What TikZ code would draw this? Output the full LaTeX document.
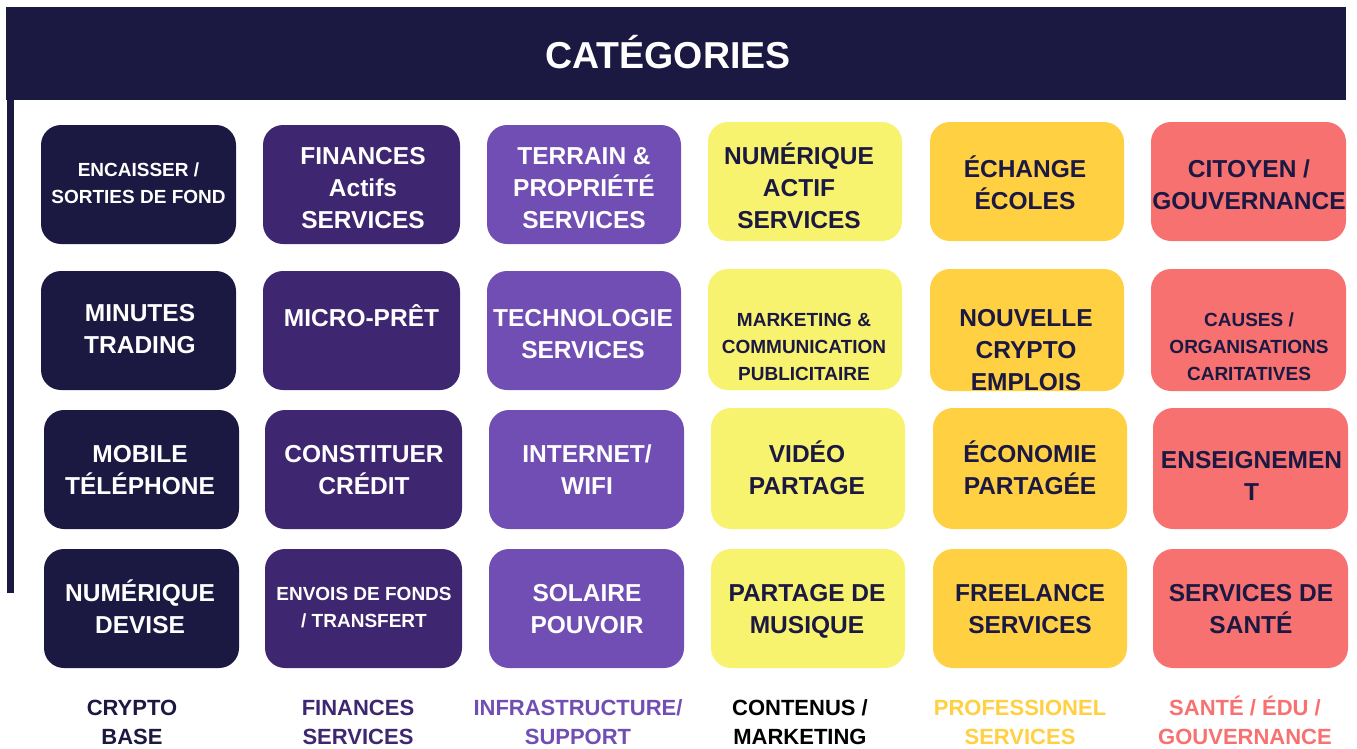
\documentclass[tikz,border=0pt]{standalone}
\usepackage{fontspec}
\setmainfont{Liberation Sans}
\definecolor{navy}{HTML}{1B1842}
\definecolor{purp}{HTML}{3E2770}
\definecolor{lav}{HTML}{714EB3}
\definecolor{lemon}{HTML}{F7F36F}
\definecolor{gold}{HTML}{FFD042}
\definecolor{coral}{HTML}{F67170}
\newcommand{\ctext}[1]{\begin{tabular}[t]{@{}c@{}}#1\end{tabular}}
\tikzset{
  box/.style={rounded corners=20pt, inner sep=0pt},
  big/.style={font=\bfseries\fontsize{24.5}{32}\selectfont, inner sep=0pt, text height=17.5pt},
  sml/.style={font=\bfseries\fontsize{19}{27}\selectfont, inner sep=0pt, text height=13.6pt},
  lbl/.style={font=\bfseries\fontsize{22}{29}\selectfont, inner sep=0pt, text height=15.8pt, text depth=29pt},
  wt/.style={text=white},
  dk/.style={text=navy},
}
\begin{document}
\begin{tikzpicture}[x=1pt,y=-1pt]
\useasboundingbox (0,0) rectangle (1357,748);
% header
\fill[navy] (6,7) rectangle (1346,100);
\node[font=\bfseries\fontsize{37.5}{40}\selectfont, text=white, inner sep=0pt] (title) at (668,52) {CATÉGORIES};
\fill[navy] (7,100) rectangle (14,593);
% boxes: name, left, top, right, bottom, colour
\foreach \n/\l/\t/\r/\b/\c in {
  a1/41/125/236/244/navy, b1/263/125/460/244/purp, c1/487/125/681/244/lav,
  d1/708/122/902/241/lemon, e1/930/122/1124/241/gold, f1/1151/122/1346/241/coral,
  a2/41/271/236/390/navy, b2/263/271/460/390/purp, c2/487/271/681/390/lav,
  d2/708/269/902/390/lemon, e2/930/269/1124/391/gold, f2/1151/269/1346/391/coral,
  a3/44/410/239/529/navy, b3/265/410/462/529/purp, c3/489/410/684/529/lav,
  d3/711/408/905/529/lemon, e3/933/408/1127/529/gold, f3/1153/408/1348/529/coral,
  a4/44/549/239/668/navy, b4/265/549/462/668/purp, c4/489/549/684/668/lav,
  d4/711/549/905/668/lemon, e4/933/549/1127/668/gold, f4/1153/549/1348/668/coral}
  {\node[box, fill=\c, minimum width={(\r-\l)*1pt}, minimum height={(\b-\t)*1pt}] (\n) at ({(\l+\r)/2},{(\t+\b)/2}) {};}
% row 1
\node[sml,wt,text depth=27pt] (ta1) at (138.5,183.5) {\ctext{ENCAISSER /\\SORTIES DE FOND}};
\node[big,wt,text depth=64pt] (tb1) at (363,188) {\ctext{FINANCES\\Actifs\\SERVICES}};
\node[big,wt,text depth=64pt] (tc1) at (584,188) {\ctext{TERRAIN \&\\PROPRIÉTÉ\\SERVICES}};
\node[big,dk,text depth=64pt] (td1) at (799,188) {\ctext{NUMÉRIQUE\\ACTIF\\SERVICES}};
\node[big,dk,text depth=32pt] (te1) at (1025,184.5) {\ctext{ÉCHANGE\\ÉCOLES}};
\node[big,dk,text depth=32pt] (tf1) at (1249,184.5) {\ctext{CITOYEN /\\GOUVERNANCE}};
% row 2
\node[big,wt,text depth=32pt] (ta2) at (140,328.5) {\ctext{MINUTES\\TRADING}};
\node[big,wt,text depth=0pt] (tb2) at (361.5,318) {\ctext{MICRO-PRÊT}};
\node[big,wt,text depth=32pt] (tc2) at (583,334) {\ctext{TECHNOLOGIE\\SERVICES}};
\node[sml,dk,text depth=54pt] (td2) at (804,347) {\ctext{MARKETING \&\\COMMUNICATION\\PUBLICITAIRE}};
\begin{scope}
\clip[rounded corners=20pt] (930,269) rectangle (1124,391);
\node[big,dk,text depth=64pt] (te2) at (1026,350) {\ctext{NOUVELLE\\CRYPTO\\EMPLOIS}};
\end{scope}
\node[sml,dk,text depth=54pt] (tf2) at (1249,347) {\ctext{CAUSES /\\ORGANISATIONS\\CARITATIVES}};
% row 3
\node[big,wt,text depth=32pt] (ta3) at (140,470) {\ctext{MOBILE\\TÉLÉPHONE}};
\node[big,wt,text depth=32pt] (tb3) at (364,470) {\ctext{CONSTITUER\\CRÉDIT}};
\node[big,wt,text depth=32pt] (tc3) at (587,470) {\ctext{INTERNET/\\WIFI}};
\node[big,dk,text depth=32pt] (td3) at (807,470) {\ctext{VIDÉO\\PARTAGE}};
\node[big,dk,text depth=32pt] (te3) at (1030,470) {\ctext{ÉCONOMIE\\PARTAGÉE}};
\node[big,dk,text depth=31pt] (tf3) at (1251.5,475.5) {\ctext{ENSEIGNEMEN\\T}};
% row 4
\node[big,wt,text depth=32pt] (ta4) at (140,609) {\ctext{NUMÉRIQUE\\DEVISE}};
\node[sml,wt,text depth=27pt] (tb4) at (364,607.5) {\ctext{ENVOIS DE FONDS\\/ TRANSFERT}};
\node[big,wt,text depth=32pt] (tc4) at (587,609) {\ctext{SOLAIRE\\POUVOIR}};
\node[big,dk,text depth=32pt] (td4) at (807,609) {\ctext{PARTAGE DE\\MUSIQUE}};
\node[big,dk,text depth=32pt] (te4) at (1030,609) {\ctext{FREELANCE\\SERVICES}};
\node[big,dk,text depth=32pt] (tf4) at (1251,609) {\ctext{SERVICES DE\\SANTÉ}};
% bottom labels
\node[lbl,text=navy] (la) at (132,722.5) {\ctext{CRYPTO\\BASE}};
\node[lbl,text=purp] (lb) at (358,722.5) {\ctext{FINANCES\\SERVICES}};
\node[lbl,text=lav] (lc) at (578,722.5) {\ctext{INFRASTRUCTURE/\\SUPPORT}};
\node[lbl,text=black] (ld) at (800,722.5) {\ctext{CONTENUS /\\MARKETING}};
\node[lbl,text=gold] (le) at (1020,722.5) {\ctext{PROFESSIONEL\\SERVICES}};
\node[lbl,text=coral] (lf) at (1245,722.5) {\ctext{SANTÉ / ÉDU /\\GOUVERNANCE}};
\end{tikzpicture}
\end{document}
